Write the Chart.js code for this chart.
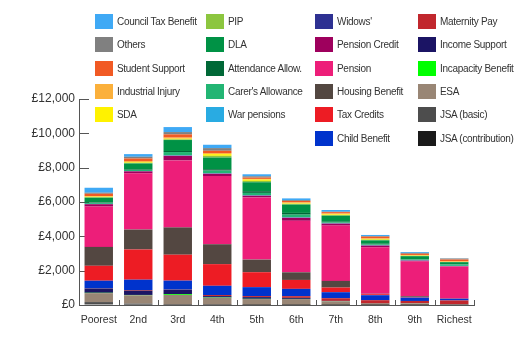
<!DOCTYPE html>
<html><head><meta charset="utf-8">
<script src="https://cdn.jsdelivr.net/npm/chart.js@4/dist/chart.umd.min.js"></script>
<style>
html,body{margin:0;padding:0;background:#fff;}
#wrap{position:relative;width:520px;height:341px;overflow:hidden;}
#c{position:absolute;left:0;top:0;}
#legend{position:absolute;left:0;top:0;width:520px;height:160px;font-family:"Liberation Sans",Arial,sans-serif;font-size:10px;letter-spacing:-0.3px;color:#333;pointer-events:none;}
.item{position:absolute;height:15px;line-height:15px;white-space:nowrap;}
.sw{position:absolute;left:0;top:0;width:18px;height:15px;}
.lb{position:absolute;left:22px;top:0;}
</style></head><body>
<div id="wrap"><canvas id="c" width="520" height="341"></canvas><div id="legend"></div></div>
<script>
// Categories (income deciles)
const categories = ["Poorest","2nd","3rd","4th","5th","6th","7th","8th","9th","Richest"];

// Series names, from bottom of stack to top
const seriesNames = ["JSA (contribution)","JSA (basic)","ESA","Incapacity Benefit","Income Support","Maternity Pay",
  "Child Benefit","Tax Credits","Housing Benefit","Pension","Pension Credit","Widows'","War pensions",
  "Carer's Allowance","Attendance Allow.","DLA","PIP","SDA","Industrial Injury","Student Support","Others","Council Tax Benefit"];
const seriesColors = ["#1a1a1a","#4d4d4d","#998675","#00ff00","#1b1464","#c1272d",
  "#0033cc","#ed1c24","#534741","#ed1e79","#9e005d","#2e3192","#29abe2",
  "#22b573","#006837","#009245","#8cc63f","#fff200","#fbb03b","#f15a24","#808080","#3fa9f5"];

// Values (£ per year) per decile
const jsaContribution   = [30, 20, 10, 10, 5, 5, 5, 5, 5, 0];
const jsaBasic          = [140, 60, 20, 20, 10, 10, 10, 5, 5, 5];
const esa               = [520, 485, 560, 390, 330, 330, 195, 60, 80, 30];
const incapacityBenefit = [20, 20, 50, 20, 15, 10, 10, 5, 5, 0];
const incomeSupport     = [250, 250, 250, 80, 100, 60, 20, 10, 5, 0];
const maternityPay      = [10, 40, 10, 60, 60, 100, 155, 195, 135, 230];
const childBenefit      = [445, 600, 520, 540, 520, 425, 350, 290, 195, 100];
const taxCredits        = [870, 1760, 1510, 1260, 870, 520, 270, 60, 20, 10];
const housingBenefit    = [1100, 1160, 1590, 1160, 735, 445, 390, 20, 60, 10];
const pension           = [2350, 3275, 3900, 3970, 3620, 3000, 3220, 2710, 2035, 1860];
const pensionCredit     = [135, 115, 270, 135, 100, 175, 115, 100, 40, 20];
const widows            = [10, 10, 10, 10, 10, 10, 10, 10, 5, 5];
const warPensions       = [10, 10, 20, 20, 20, 20, 20, 20, 20, 10];
const carersAllowance   = [60, 60, 190, 155, 135, 155, 40, 40, 40, 80];
const attendanceAllow   = [30, 30, 60, 80, 100, 100, 40, 40, 20, 20];
const dla               = [270, 350, 640, 680, 520, 485, 350, 195, 175, 115];
const pip               = [30, 40, 40, 100, 80, 40, 40, 40, 20, 10];
const sda               = [30, 40, 40, 100, 75, 30, 40, 40, 20, 10];
const industrialInjury  = [40, 60, 60, 60, 40, 60, 50, 40, 30, 30];
const studentSupport    = [130, 150, 190, 135, 75, 80, 80, 95, 70, 105];
const others            = [60, 100, 135, 155, 80, 50, 25, 40, 50, 60];
const councilTaxBenefit = [290, 155, 290, 195, 115, 100, 100, 60, 50, 10];

const seriesValues = [jsaContribution, jsaBasic, esa, incapacityBenefit, incomeSupport, maternityPay,
  childBenefit, taxCredits, housingBenefit, pension, pensionCredit, widows, warPensions,
  carersAllowance, attendanceAllow, dla, pip, sda, industrialInjury, studentSupport, others, councilTaxBenefit];

// Y axis tick values
const yTicks = [0, 2000, 4000, 6000, 8000, 10000, 12000];

const datasets = seriesNames.map((n, i) => ({
  label: n, data: seriesValues[i], backgroundColor: seriesColors[i], borderWidth: 0,
  categoryPercentage: 0.8, barPercentage: 0.9
}));

const innerTicks = {
  id: 'innerTicks',
  beforeDatasetsDraw(chart) {
    const {ctx, chartArea: a, scales: {x, y}} = chart;
    ctx.save();
    ctx.strokeStyle = '#555'; ctx.lineWidth = 1;
    ctx.beginPath();
    yTicks.forEach(v => {
      if (v === 0) return;
      const py = Math.round(y.getPixelForValue(v)) + 0.5;
      ctx.moveTo(a.left, py); ctx.lineTo(a.left + 10, py);
    });
    for (let i = 1; i <= categories.length; i++) {
      const px = Math.round(x.getPixelForValue(i - 0.5)) + 0.5;
      ctx.moveTo(px, a.bottom); ctx.lineTo(px, a.bottom - 5);
    }
    ctx.stroke();
    ctx.restore();
  }
};

new Chart(document.getElementById('c'), {
  type: 'bar',
  data: { labels: categories, datasets },
  options: {
    responsive: false, animation: false,
    layout: { padding: { top: 99, right: 46, left: 0, bottom: 0 } },
    plugins: { legend: { display: false }, tooltip: { enabled: false } },
    scales: {
      x: {
        stacked: true,
        grid: { display: true, drawOnChartArea: false, drawTicks: false },
        border: { display: true, color: '#555', width: 1 },
        ticks: { color: '#333', font: { family: 'Liberation Sans', size: 10.5 }, padding: 9, maxRotation: 0, autoSkip: false },
        afterFit: s => { s.height = 36; }
      },
      y: {
        stacked: true, min: 0, max: 12000,
        afterBuildTicks: s => { s.ticks = yTicks.map(v => ({ value: v })); },
        grid: { display: true, drawOnChartArea: false, drawTicks: false },
        border: { display: true, color: '#555', width: 1 },
        ticks: { color: '#333', font: { family: 'Liberation Sans', size: 12 }, padding: 4,
          callback: v => '£' + Number(v).toLocaleString('en-GB') },
        afterFit: s => { s.width = 79; }
      }
    }
  },
  plugins: [innerTicks]
});

// HTML legend, column-major, top of stack first
const legendOrder = seriesNames.map((n, i) => i).reverse();
const colX = [95, 206, 315, 418];
const colStarts = [0, 5, 10, 16, 22];
const leg = document.getElementById('legend');
for (let c = 0; c < 4; c++) {
  for (let k = colStarts[c]; k < colStarts[c + 1]; k++) {
    const idx = legendOrder[k];
    const r = k - colStarts[c];
    const d = document.createElement('div');
    d.className = 'item';
    d.style.left = colX[c] + 'px';
    d.style.top = (14 + r * 23.3) + 'px';
    const sw = document.createElement('div'); sw.className = 'sw'; sw.style.background = seriesColors[idx];
    const lb = document.createElement('div'); lb.className = 'lb'; lb.textContent = seriesNames[idx];
    d.appendChild(sw); d.appendChild(lb); leg.appendChild(d);
  }
}
</script>
</body></html>
